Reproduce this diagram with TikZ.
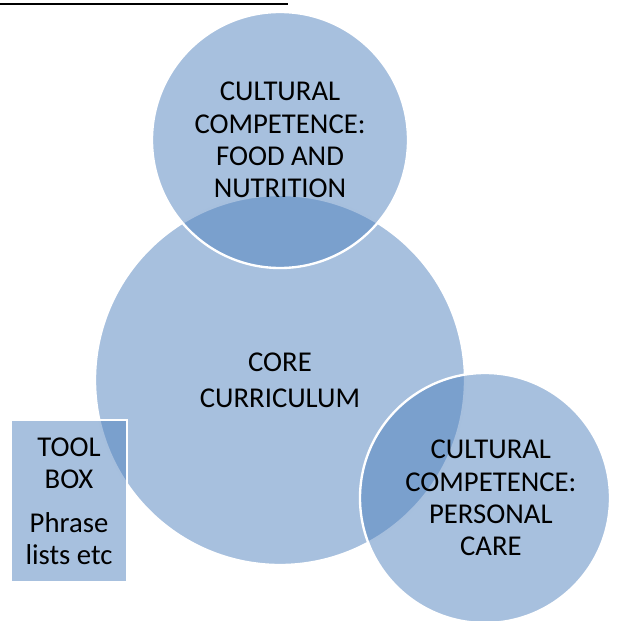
\documentclass[tikz,border=0pt]{standalone}
\usepackage{fontspec}
\setmainfont{Carlito}
\definecolor{bubblefill}{HTML}{4F81BD}
\tikzset{
  bubble/.style={circle, draw=white, line width=2pt, fill=bubblefill, fill opacity=0.5, text opacity=1, align=center, inner sep=0pt, font=\fontsize{24.5}{27.5}\selectfont},
  toolbox/.style={rectangle, draw=white, line width=2pt, fill=bubblefill, fill opacity=0.5, text opacity=1, align=center, inner sep=0pt, font=\fontsize{24.5}{27.5}\selectfont},
}
\begin{document}
\begin{tikzpicture}[x=0.03cm,y=-0.03cm]
\useasboundingbox (0,0) rectangle (619,621);
\draw[line width=0.07cm] (0,4)--(288,4);
% circles
\node[bubble, minimum size=11.1cm, font=\fontsize{24.5}{30.5}\selectfont] (core) at (280,380) {CORE\\CURRICULUM};
\node[bubble, minimum size=7.68cm] (food) at (280,140) {CULTURAL\\COMPETENCE:\\FOOD AND\\NUTRITION};
\node[bubble, minimum size=7.5cm] (care) at (485,498) {\hspace*{10pt}CULTURAL\\\hspace*{10pt}COMPETENCE:\\\hspace*{10pt}PERSONAL\\\hspace*{10pt}CARE};
% side box
\node[toolbox, minimum width=3.48cm, minimum height=4.86cm] (tools) at (69,501) {TOOL\\BOX\\[10pt]Phrase\\lists etc};
\end{tikzpicture}
\end{document}
